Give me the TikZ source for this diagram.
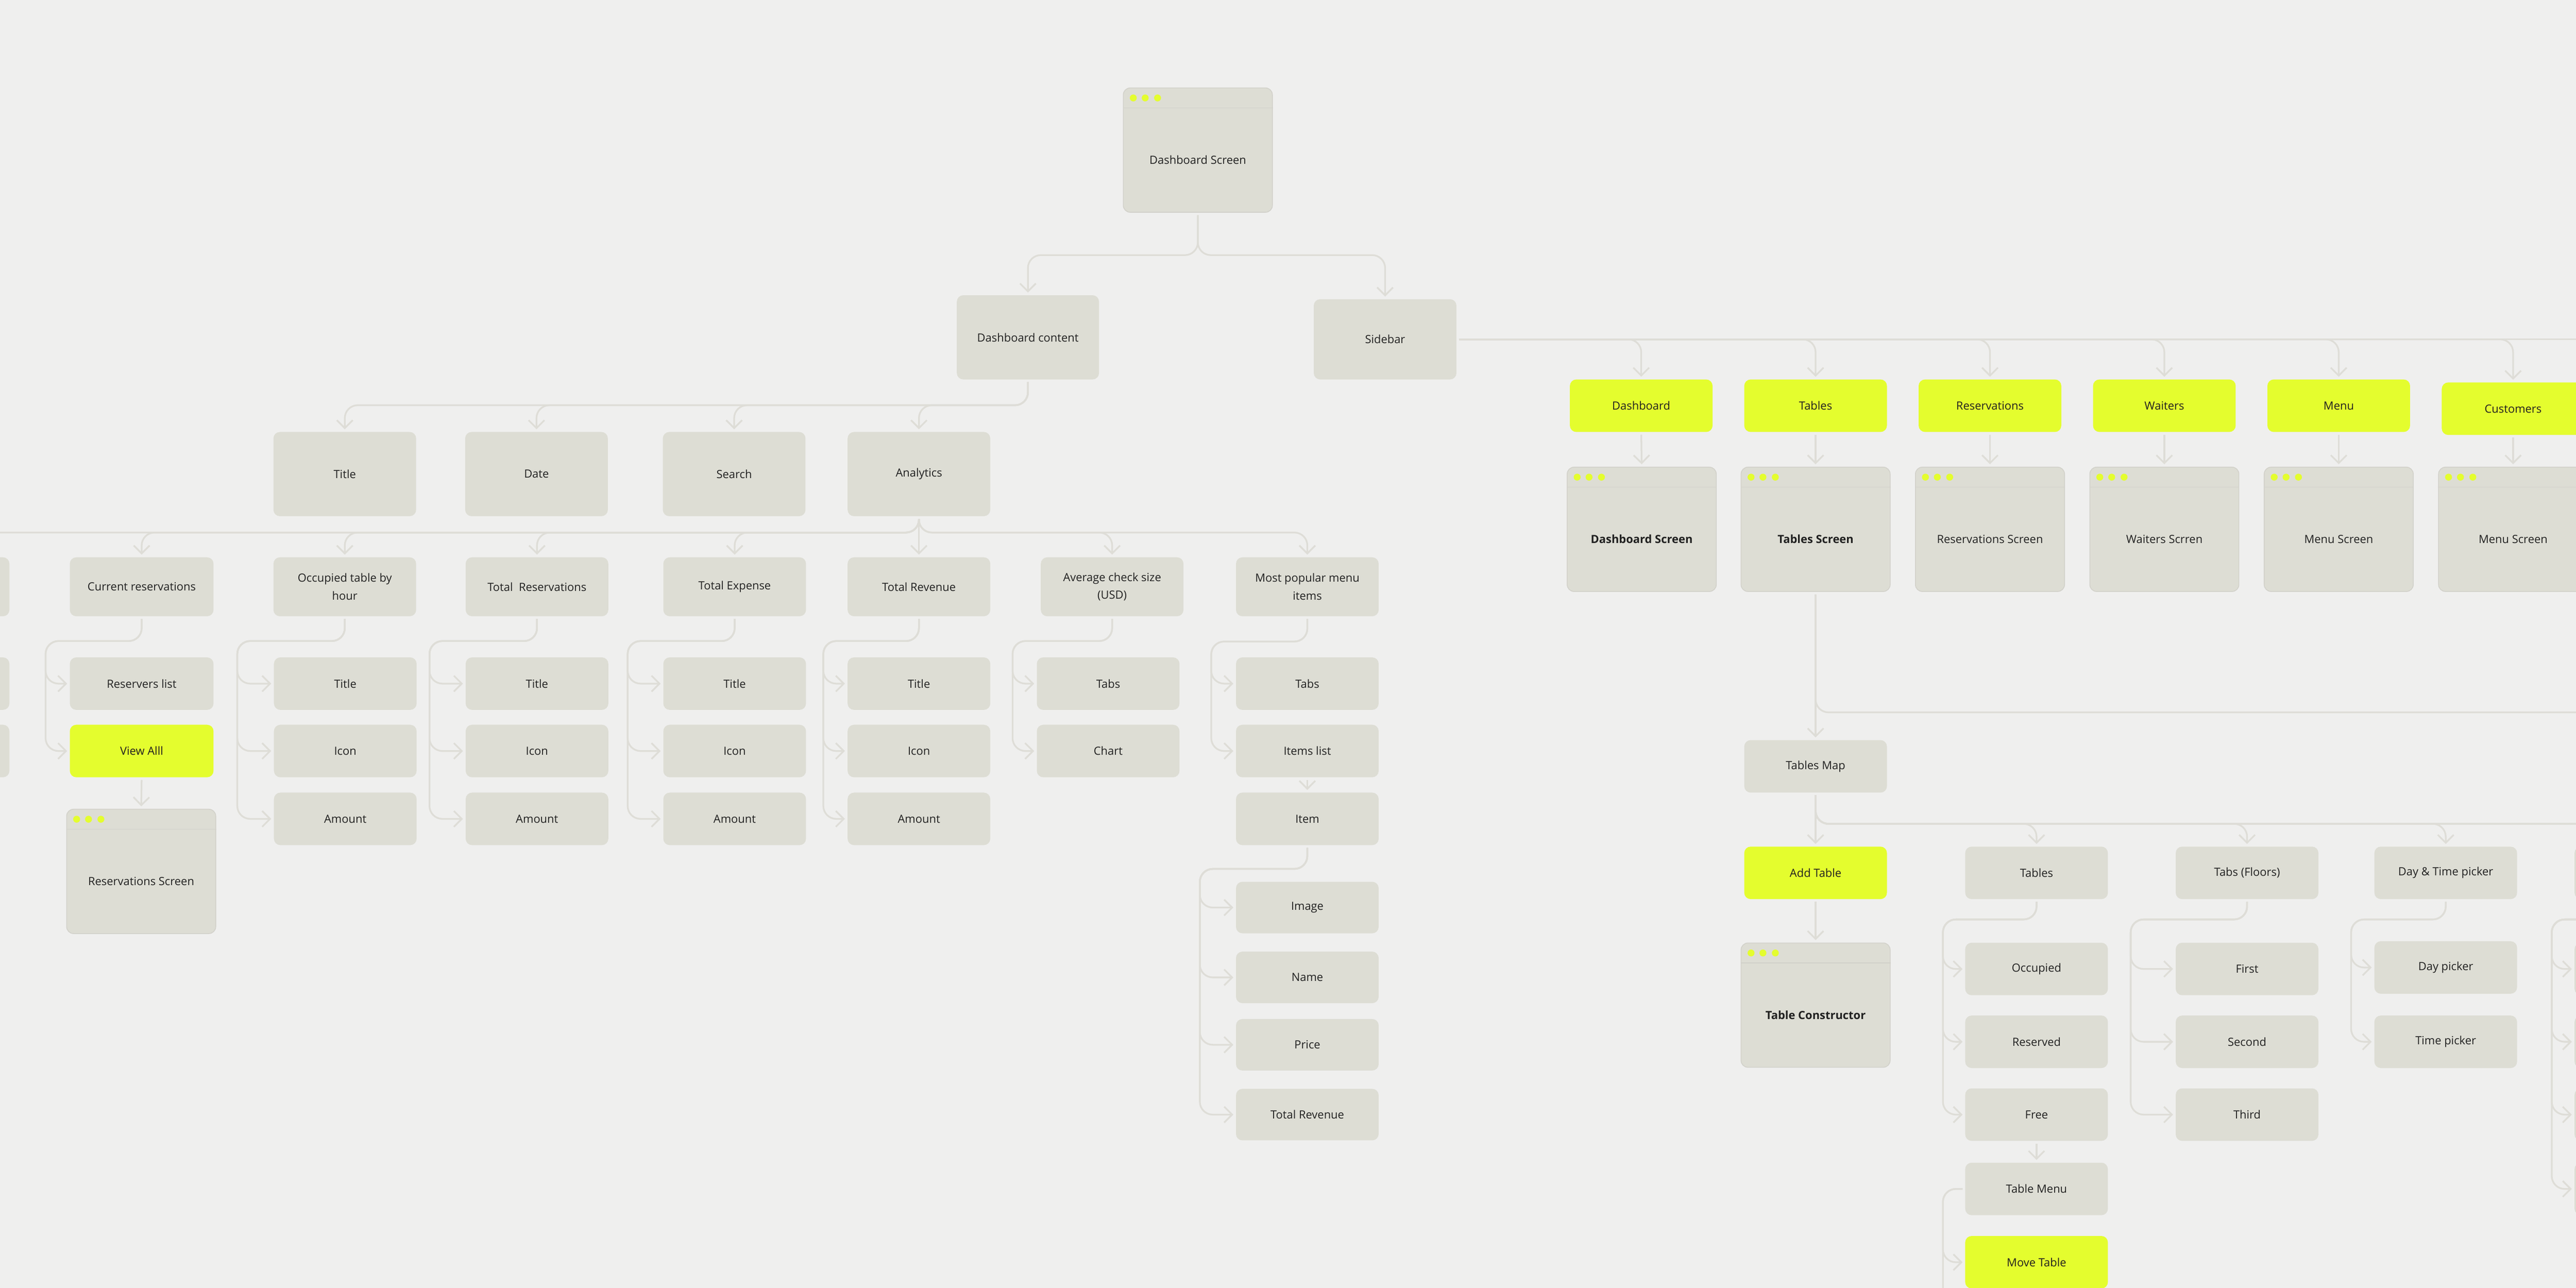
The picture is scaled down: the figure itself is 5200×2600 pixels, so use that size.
\documentclass[tikz,border=0pt]{standalone}
\usepackage{fontspec}
\setmainfont{Open Sans}
\usetikzlibrary{arrows.meta,calc}
\definecolor{bgc}{HTML}{EFEFEE}
\definecolor{boxc}{HTML}{DDDDD4}
\definecolor{yel}{HTML}{E4FD2E}
\definecolor{lnc}{HTML}{DEDDD7}
\definecolor{scrline}{HTML}{D2D1CA}
\definecolor{txt}{HTML}{202020}
\newcommand\scrn[5]{%
 \node[scr] (#1) at (#2,#3) {};
 \draw[scrline,line width=0.8pt] ($(#1.north west)+(0,41)$) -- ($(#1.north east)+(0,41)$);
 \foreach \dx in {21,45,70}{\fill[yel] ($(#1.north west)+(\dx,21)$) circle[radius=3.5pt];}
 \node[lbl,#5] (#1T) at ($(#1.center)+(0,20)$) {#4};
}
\begin{document}
\begin{tikzpicture}[x=0.5pt,y=-0.5pt,
 box/.style={rectangle,rounded corners=6.5pt,fill=boxc,inner sep=0pt,minimum width=144pt,minimum height=53pt,align=center,text=txt,font=\fontsize{11.4}{18}\selectfont},
 hl/.style={box,fill=yel},
 tallbox/.style={box,minimum height=85pt},
 midbox/.style={box,minimum height=59.5pt},
 scr/.style={rectangle,rounded corners=7pt,fill=boxc,draw=scrline,line width=0.8pt,minimum width=150.5pt,minimum height=125.5pt,inner sep=0pt},
 lbl/.style={inner sep=0pt,align=center,text=txt,font=\fontsize{11.4}{18}\selectfont},
 heavy/.style={font=\fontsize{11.4}{18}\selectfont\bfseries},
 conn/.style={draw=lnc,line width=1.7pt,rounded corners=13pt,-{Straight Barb[length=8pt,width=16pt]},shorten <=2.5pt,shorten >=2.5pt},
 bus/.style={conn,-}]
\useasboundingbox (0,0) rectangle (5200,2600);
\clip (0,0) rectangle (5200,2600);
\fill[bgc] (0,0) rectangle (5200,2600);

% ---------- top ----------
\scrn{dscreen}{2418}{303}{Dashboard Screen}{}
\node[tallbox,minimum width=143.5pt] (dcontent) at (2075,681) {Dashboard content};
\node[box,minimum height=81pt] (sidebar) at (2796,685) {Sidebar};

% ---------- left part ----------
\node[tallbox] (title0) at (696,957) {Title};
\node[tallbox] (date) at (1083,957) {Date};
\node[tallbox] (search) at (1482,957) {Search};
\node[tallbox] (analytics) at (1855,957) {Analytics};

\node[midbox] (leftA) at (-125,1184.5) {};
\node[midbox,minimum width=145pt] (curres) at (286,1184.5) {Current reservations};
\node[midbox] (occ) at (696,1184.5) {Occupied table by\\hour};
\node[midbox] (totres) at (1084,1184.5) {Total~ Reservations};
\node[midbox] (totexp) at (1483,1184.5) {Total Expense};
\node[midbox] (totrev) at (1855,1184.5) {Total Revenue};
\node[midbox] (avg) at (2245,1184.5) {Average check size\\(USD)};
\node[midbox] (popular) at (2639,1184.5) {Most popular menu\\items};

\node[box] (leftA1) at (-125,1380) {};
\node[box] (leftA2) at (-125,1516) {};
\node[box,minimum width=145pt] (reservers) at (286,1380) {Reservers list};
\node[hl,minimum width=145pt] (viewall) at (286,1516) {View Alll};
\scrn{resscreen}{285}{1759}{Reservations Screen}{}

\node[box] (occ1) at (697,1380) {Title};
\node[box] (occ2) at (697,1516) {Icon};
\node[box] (occ3) at (697,1653) {Amount};
\node[box] (tr1) at (1084,1380) {Title};
\node[box] (tr2) at (1084,1516) {Icon};
\node[box] (tr3) at (1084,1653) {Amount};
\node[box] (te1) at (1483,1380) {Title};
\node[box] (te2) at (1483,1516) {Icon};
\node[box] (te3) at (1483,1653) {Amount};
\node[box] (rv1) at (1855,1380) {Title};
\node[box] (rv2) at (1855,1516) {Icon};
\node[box] (rv3) at (1855,1653) {Amount};
\node[box] (avg1) at (2237,1380) {Tabs};
\node[box] (avg2) at (2237,1516) {Chart};
\node[box] (pop1) at (2639,1380) {Tabs};
\node[box] (pop2) at (2639,1516) {Items list};
\node[box] (pop3) at (2639,1653) {Item};
\node[box,minimum height=52pt] (it1) at (2639,1832) {Image};
\node[box,minimum height=52pt] (it2) at (2639,1973) {Name};
\node[box,minimum height=52pt] (it3) at (2639,2109) {Price};
\node[box,minimum height=52pt] (it4) at (2639,2250) {Total Revenue};

% ---------- right part ----------
\node[hl] (sdash) at (3313,819) {Dashboard};
\node[hl] (stab) at (3665,819) {Tables};
\node[hl] (sres) at (4017,819) {Reservations};
\node[hl] (swait) at (4369,819) {Waiters};
\node[hl] (smenu) at (4721,819) {Menu};
\node[hl] (scust) at (5073,825) {Customers};

\scrn{sc1}{3314}{1068.5}{Dashboard Screen}{heavy}
\scrn{sc2}{3665}{1068.5}{Tables Screen}{heavy}
\scrn{sc3}{4017}{1068.5}{Reservations Screen}{}
\scrn{sc4}{4369}{1068.5}{Waiters Scrren}{}
\scrn{sc5}{4721}{1068.5}{Menu Screen}{}
\scrn{sc6}{5073}{1068.5}{Menu Screen}{}

\node[box] (tmap) at (3665,1547) {Tables Map};
\node[hl] (addt) at (3665,1762) {Add Table};
\scrn{tcons}{3665}{2029}{Table Constructor}{heavy}

\node[box] (tbl) at (4111,1762) {Tables};
\node[box] (occd) at (4111,1956) {Occupied};
\node[box] (resd) at (4111,2103) {Reserved};
\node[box] (free) at (4111,2250) {Free};
\node[box] (tmenu) at (4111,2400) {Table Menu};
\node[hl] (mvt) at (4111,2548) {Move Table};

\node[box] (tabs) at (4536,1762) {Tabs (Floors)};
\node[box] (first) at (4536,1956) {First};
\node[box] (second) at (4536,2103) {Second};
\node[box] (third) at (4536,2250) {Third};

\node[box] (dtp) at (4937,1762) {Day \& Time picker};
\node[box] (dayp) at (4937,1953) {Day picker};
\node[box] (timep) at (4937,2103) {Time picker};

\node[box] (fr) at (5341,1762) {};
\node[box] (fr1) at (5341,1956) {};
\node[box] (fr2) at (5341,2103) {};
\node[box] (fr3) at (5341,2250) {};
\node[box] (fr4) at (5341,2400) {};

% ---------- connectors ----------
\coordinate (dsbus) at (0,515);
\draw[conn] (dscreen.south) |- (dcontent.north |- dsbus) -- (dcontent.north);
\draw[conn] (dscreen.south) |- (sidebar.north |- dsbus) -- (sidebar.north);

\coordinate (dcbus) at (0,818);
\foreach \t in {title0,date,search,analytics}{
 \draw[conn] (dcontent.south) |- (\t.north |- dcbus) -- (\t.north);}

\coordinate (anbus) at (0,1075);
\foreach \t in {leftA,curres,occ,totres,totexp,avg,popular}{
 \draw[conn] (analytics.south) |- (\t.north |- anbus) -- (\t.north);}
\draw[conn] (analytics.south) -- (totrev.north);

% brackets
\coordinate (kA) at (-320,1294);
\foreach \c in {leftA1,leftA2}{\draw[conn] (leftA.south) |- (kA) |- (\c.west);}
\coordinate (kC) at (92,1294);
\foreach \c in {reservers,viewall}{\draw[conn] (curres.south) |- (kC) |- (\c.west);}
\draw[conn] (viewall.south) -- (resscreen.north);
\coordinate (kO) at (479,1294);
\foreach \c in {occ1,occ2,occ3}{\draw[conn] (occ.south) |- (kO) |- (\c.west);}
\coordinate (kR) at (867,1294);
\foreach \c in {tr1,tr2,tr3}{\draw[conn] (totres.south) |- (kR) |- (\c.west);}
\coordinate (kE) at (1267,1294);
\foreach \c in {te1,te2,te3}{\draw[conn] (totexp.south) |- (kE) |- (\c.west);}
\coordinate (kV) at (1662,1294);
\foreach \c in {rv1,rv2,rv3}{\draw[conn] (totrev.south) |- (kV) |- (\c.west);}
\coordinate (kG) at (2044,1294);
\foreach \c in {avg1,avg2}{\draw[conn] (avg.south) |- (kG) |- (\c.west);}
\coordinate (kP) at (2445,1295);
\foreach \c in {pop1,pop2}{\draw[conn] (popular.south) |- (kP) |- (\c.west);}
\draw[conn] (pop2.south) -- (pop3.north);
\coordinate (kI) at (2422,1754);
\foreach \c in {it1,it2,it3,it4}{\draw[conn] (pop3.south) |- (kI) |- (\c.west);}

% sidebar
\coordinate (sbend) at (5300,684);
\draw[bus] (sidebar.east) -- (sidebar.east -| sbend);
\foreach \t in {sdash,stab,sres,swait,smenu,scust}{
 \draw[conn] (sidebar.east) -| (\t.north);}
\draw[conn] (sdash.south) -- (sc1.north);
\draw[conn] (stab.south) -- (sc2.north);
\draw[conn] (sres.south) -- (sc3.north);
\draw[conn] (swait.south) -- (sc4.north);
\draw[conn] (smenu.south) -- (sc5.north);
\draw[conn] (scust.south) -- (sc6.north);

% tables screen
\coordinate (tsend) at (5300,1438);
\draw[bus] (sc2.south) |- (tsend);
\draw[conn] (sc2.south) -- (tmap.north);

\coordinate (tmbus) at (0,1663);
\coordinate (tmend) at (5400,1663);
\draw[bus] (tmap.south) |- (tmend);
\draw[conn] (tmap.south) -- (addt.north);
\foreach \t in {tbl,tabs,dtp,fr}{
 \draw[conn] (tmap.south) |- (\t.north |- tmbus) -- (\t.north);}
\draw[conn] (addt.south) -- (tcons.north);

\coordinate (kT) at (3922,1856);
\foreach \c in {occd,resd,free}{\draw[conn] (tbl.south) |- (kT) |- (\c.west);}
\draw[conn] (free.south) -- (tmenu.north);
\coordinate (kM) at (3922,2400);
\coordinate (tmnext) at (3966,2720);
\draw[conn] (tmenu.west) -- (kM) |- (mvt.west);
\draw[bus] (tmenu.west) -- (kM) |- (tmnext);

\coordinate (kF) at (4301,1856);
\foreach \c in {first,second,third}{\draw[conn] (tabs.south) |- (kF) |- (\c.west);}
\coordinate (kD) at (4746,1856);
\foreach \c in {dayp,timep}{\draw[conn] (dtp.south) |- (kD) |- (\c.west);}
\coordinate (kX) at (5151,1856);
\foreach \c in {fr1,fr2,fr3,fr4}{\draw[conn] (fr.south) |- (kX) |- (\c.west);}
\end{tikzpicture}
\end{document}
